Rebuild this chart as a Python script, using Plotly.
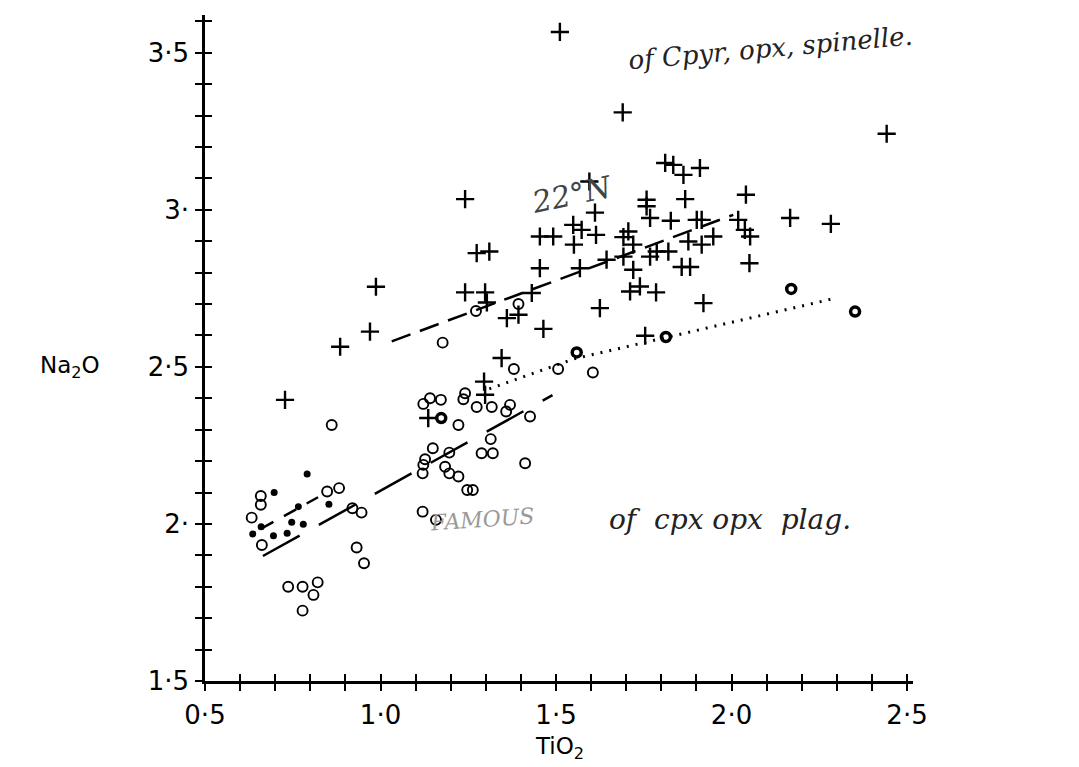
import plotly.graph_objects as go

# ---- data (TiO2, Na2O) ----
cross_x = [1.511, 1.690, 2.442, 1.241, 1.595, 1.611, 1.549, 1.573, 1.454, 1.492,
           1.614, 1.551, 1.274, 1.310, 1.454, 1.568, 1.241, 1.298, 1.303, 1.431,
           1.360, 1.393, 1.464, 1.345, 1.295, 1.298, 1.136, 1.811, 1.834, 1.863,
           1.910, 1.868, 2.041, 1.758, 1.758, 1.768, 1.827, 1.706, 1.692, 1.720,
           1.901, 1.915, 2.019, 2.038, 2.053, 1.877, 1.915, 1.948, 1.644, 1.692,
           1.768, 1.787, 1.820, 1.720, 1.858, 1.882, 2.051, 1.711, 1.739, 1.785,
           1.625, 1.920, 1.754, 2.167, 2.283, 0.728, 0.885, 0.970, 0.987]
cross_y = [3.566, 3.310, 3.242, 3.034, 3.090, 2.991, 2.952, 2.936, 2.915, 2.915,
           2.920, 2.889, 2.862, 2.867, 2.814, 2.814, 2.737, 2.737, 2.705, 2.735,
           2.655, 2.666, 2.621, 2.528, 2.453, 2.411, 2.337, 3.149, 3.143, 3.111,
           3.133, 3.034, 3.048, 3.032, 3.011, 2.974, 2.965, 2.931, 2.913, 2.889,
           2.968, 2.968, 2.968, 2.936, 2.915, 2.899, 2.889, 2.915, 2.841, 2.851,
           2.851, 2.867, 2.867, 2.809, 2.818, 2.818, 2.830, 2.740, 2.756, 2.737,
           2.687, 2.703, 2.599, 2.974, 2.955, 2.395, 2.564, 2.612, 2.755]

open_x = [0.861, 0.659, 0.659, 0.633, 0.662, 0.848, 0.882, 0.920, 0.946, 0.932,
          0.953, 0.737, 0.778, 0.821, 0.809, 0.778, 1.272, 1.393, 1.177, 1.380,
          1.122, 1.141, 1.172, 1.241, 1.236, 1.274, 1.317, 1.369, 1.358, 1.222,
          1.426, 1.149, 1.196, 1.127, 1.122, 1.120, 1.184, 1.196, 1.222, 1.314,
          1.288, 1.320, 1.412, 1.247, 1.263, 1.120, 1.158, 1.506, 1.605]
open_y = [2.315, 2.089, 2.061, 2.020, 1.933, 2.103, 2.114, 2.050, 2.036, 1.925,
          1.875, 1.800, 1.800, 1.814, 1.774, 1.724, 2.678, 2.700, 2.577, 2.493,
          2.382, 2.400, 2.395, 2.416, 2.397, 2.372, 2.372, 2.379, 2.358, 2.315,
          2.342, 2.241, 2.227, 2.206, 2.188, 2.161, 2.182, 2.161, 2.151, 2.270,
          2.225, 2.225, 2.193, 2.108, 2.108, 2.039, 2.013, 2.493, 2.482]

dot_x = [0.791, 0.697, 0.766, 0.853, 0.660, 0.636, 0.695, 0.747, 0.780, 0.734]
dot_y = [2.159, 2.100, 2.055, 2.063, 1.991, 1.968, 1.962, 2.005, 1.999, 1.970]

bold_x = [1.173, 1.559, 1.813, 2.170, 2.352]
bold_y = [2.337, 2.546, 2.595, 2.748, 2.676]

# trend lines
upper_x = [1.032, 2.005]
upper_y = [2.581, 2.984]
lower_x = [0.665, 1.490]
lower_y = [1.898, 2.410]
dotfit_x = [0.660, 0.822]
dotfit_y = [1.985, 2.085]
dotted_x = [1.310, 1.470, 1.550, 2.290]
dotted_y = [2.430, 2.495, 2.525, 2.717]

x_ticks = [round(0.5 + 0.1 * i, 1) for i in range(21)]
x_labels = {0.5: "0·5", 1.0: "1·0", 1.5: "1·5", 2.0: "2·0", 2.5: "2·5"}
y_ticks = [round(1.5 + 0.1 * i, 1) for i in range(22)]
y_labels = {1.5: "1·5", 2.0: "2·", 2.5: "2·5", 3.0: "3·", 3.5: "3·5"}

XR = [0.5, 2.517]
YR = [1.5, 3.62]

fig = go.Figure()

fig.add_trace(go.Scatter(x=upper_x, y=upper_y, mode="lines",
                         line=dict(color="black", width=2.5, dash="20px,10px"), hoverinfo="skip"))
fig.add_trace(go.Scatter(x=lower_x, y=lower_y, mode="lines",
                         line=dict(color="black", width=2.5, dash="42px,22px"), hoverinfo="skip"))
fig.add_trace(go.Scatter(x=dotfit_x, y=dotfit_y, mode="lines",
                         line=dict(color="black", width=2.5, dash="14px,12px"), hoverinfo="skip"))
fig.add_trace(go.Scatter(x=dotted_x, y=dotted_y, mode="lines",
                         line=dict(color="black", width=3, dash="2px,7px"), hoverinfo="skip"))

fig.add_trace(go.Scatter(x=cross_x, y=cross_y, mode="markers",
                         marker=dict(symbol="cross-thin-open", size=13, color="black",
                                     line=dict(color="black", width=2.4))))
fig.add_trace(go.Scatter(x=open_x, y=open_y, mode="markers",
                         marker=dict(symbol="circle-open", size=10, color="black",
                                     line=dict(color="black", width=1.9))))
fig.add_trace(go.Scatter(x=dot_x, y=dot_y, mode="markers",
                         marker=dict(symbol="circle", size=7, color="black")))
fig.add_trace(go.Scatter(x=bold_x, y=bold_y, mode="markers",
                         marker=dict(symbol="circle-open", size=9, color="black",
                                     line=dict(color="black", width=3.5))))
# carrier for the inner half of the crossing ticks
fig.add_trace(go.Scatter(x=[], y=[], xaxis="x2", yaxis="y2", hoverinfo="skip"))

tick_font = dict(family="DejaVu Sans", size=26, color="black")
fig.update_layout(
    width=1079, height=767,
    margin=dict(l=205, r=166, t=15, b=86),
    paper_bgcolor="white", plot_bgcolor="white",
    showlegend=False,
    xaxis=dict(range=XR, showgrid=False, zeroline=False, showline=True,
               linecolor="black", linewidth=2.5, ticks="outside", ticklen=7,
               tickwidth=2, tickcolor="black", tickvals=x_ticks,
               ticktext=[x_labels.get(v, "") for v in x_ticks],
               tickfont=tick_font, ticklabelstandoff=2),
    yaxis=dict(range=YR, showgrid=False, zeroline=False, showline=True,
               linecolor="black", linewidth=2.5, ticks="outside", ticklen=7,
               tickwidth=2, tickcolor="black", tickvals=y_ticks,
               ticktext=[y_labels.get(v, "") for v in y_ticks],
               tickfont=tick_font, ticklabelstandoff=1),
    xaxis2=dict(range=XR, overlaying="x", anchor="y2", side="bottom",
                showgrid=False, zeroline=False, showline=False,
                ticks="inside", ticklen=7, tickwidth=2, tickcolor="black",
                tickvals=x_ticks, showticklabels=False),
    yaxis2=dict(range=YR, overlaying="y", anchor="x2", side="left",
                showgrid=False, zeroline=False, showline=False,
                ticks="inside", ticklen=7, tickwidth=2, tickcolor="black",
                tickvals=y_ticks, showticklabels=False),
)

axis_title_font = dict(family="DejaVu Sans", size=23, color="black")
fig.add_annotation(text="Na<sub>2</sub>O", xref="paper", yref="y", x=-0.19, y=2.5,
                   xanchor="center", yanchor="middle", showarrow=False,
                   font=axis_title_font)
fig.add_annotation(text="TiO<sub>2</sub>", xref="x", yref="paper", x=1.511, y=-0.1,
                   xanchor="center", yanchor="middle", showarrow=False,
                   font=axis_title_font)

hand = dict(family="DejaVu Serif", size=26, color="#222222")
fig.add_annotation(text="<i>of Cpyr, opx, spinelle.</i>", xref="x", yref="y",
                   x=2.11, y=3.516, showarrow=False, textangle=-5, font=hand)
fig.add_annotation(text="<i>22°N</i>", xref="x", yref="y", x=1.546, y=3.048,
                   showarrow=False, textangle=-12,
                   font=dict(family="DejaVu Serif", size=30, color="#444444"))
fig.add_annotation(text="<i>FAMOUS</i>", xref="x", yref="y", x=1.289, y=2.013,
                   showarrow=False, textangle=-4,
                   font=dict(family="DejaVu Serif", size=22, color="#9a9a9a"))
fig.add_annotation(text="<i>of  cpx opx  plag.</i>", xref="x", yref="y", x=1.996, y=2.013,
                   showarrow=False, font=dict(family="DejaVu Serif", size=28, color="#222222"))

fig.write_html("out.html")
